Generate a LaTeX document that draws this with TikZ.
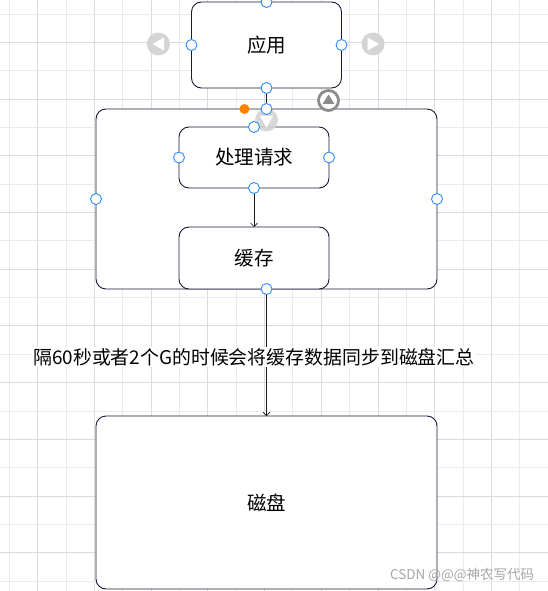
\documentclass[tikz,border=0pt]{standalone}
\usepackage{fontspec}
\setmainfont{Noto Sans CJK SC}
\usetikzlibrary{arrows.meta}

\definecolor{edge}{RGB}{24,26,56}
\definecolor{handle}{RGB}{45,140,255}
\definecolor{icon}{RGB}{212,212,212}
\definecolor{ring}{RGB}{140,140,140}

\begin{document}
\begin{tikzpicture}[x=1pt, y=-1pt]
    \tikzstyle{every node}=[inner sep=0pt, outer sep=0pt]
    \tikzstyle{box}=[draw=edge, line width=0.9pt, fill=white, rounded corners=10pt, font=\fontsize{19.5}{22}\selectfont]
    \tikzstyle{link}=[draw=black!90, line width=0.8pt]
    \tikzstyle{arr}=[-{Straight Barb[length=3.5pt, width=7pt, line width=0.7pt]}]
    \tikzstyle{minorgrid}=[draw=black!8, line width=0.8pt]
    \tikzstyle{majorgrid}=[draw=black!14, line width=0.8pt]
    \tikzstyle{handle}=[draw=handle, fill=white, line width=0.9pt]
    \useasboundingbox (0,0) rectangle (548,591);
    \fill[white] (0,0) rectangle (548,591);
    % grid
    \foreach \i in {0,2,...,18} \draw[minorgrid] ({9.35+28.35*\i},0) -- ({9.35+28.35*\i},591);
    \foreach \i in {1,3,...,19} \draw[majorgrid] ({9.35+28.35*\i},0) -- ({9.35+28.35*\i},591);
    \foreach \i in {0,2,...,20} \draw[minorgrid] (0,{14+28.35*\i}) -- (548,{14+28.35*\i});
    \foreach \i in {1,3,...,19} \draw[majorgrid] (0,{14+28.35*\i}) -- (548,{14+28.35*\i});
    % boxes
    \node[box, minimum width=150pt, minimum height=86pt] (app) at (266.5,45) {应用};
    \node[box, minimum width=341pt, minimum height=180pt] (store) at (266.5,199) {};
    \node[box, minimum width=150pt, minimum height=61pt] (proc) at (254,157.5) {处理请求};
    \node[box, minimum width=150pt, minimum height=62pt] (cache) at (254,258) {缓存};
    \node[box, minimum width=341pt, minimum height=173pt] (disk) at (266.5,502.5) {磁盘};
    % connectors
    \draw[link] (app.south) -- (store.north);
    \draw[link, arr] (proc.south) -- (cache.north);
    \draw[link, arr] (store.south) -- (disk.north);
    \node[fill=white, inner sep=1pt, font=\fontsize{18.9}{21}\selectfont] (note) at (254,357) {隔60秒或者2个G的时候会将缓存数据同步到磁盘汇总};
    % editor icons
    \fill[icon] (158.5,44) circle (11.5pt);
    \fill[white] (152.5,44) -- (164,37.5) -- (164,50.5) -- cycle;
    \fill[icon] (373,44) circle (11.5pt);
    \fill[white] (379,44) -- (367.5,37.5) -- (367.5,50.5) -- cycle;
    \fill[icon, opacity=0.9] (266.5,120) circle (11.5pt);
    \fill[white] (266.5,127.5) -- (260,116) -- (273,116) -- cycle;
    \draw[ring, fill=white, line width=2.8pt] (328.5,100.5) circle (10pt);
    \fill[ring] (328.5,94.5) -- (322.5,104) -- (334.5,104) -- cycle;
    \fill[orange] (244.5,109) circle (5pt);
    % handles
    \foreach \p in {app.north, app.west, app.east, app.south,
                    store.north, store.west, store.east, store.south,
                    proc.north, proc.west, proc.east, proc.south}
        \draw[handle] (\p) circle (5.5pt);
    \node[anchor=west, text=black!35, font=\fontsize{13.5}{16}\selectfont] (mark) at (390,575) {CSDN @@@神农写代码};
\end{tikzpicture}
\end{document}
